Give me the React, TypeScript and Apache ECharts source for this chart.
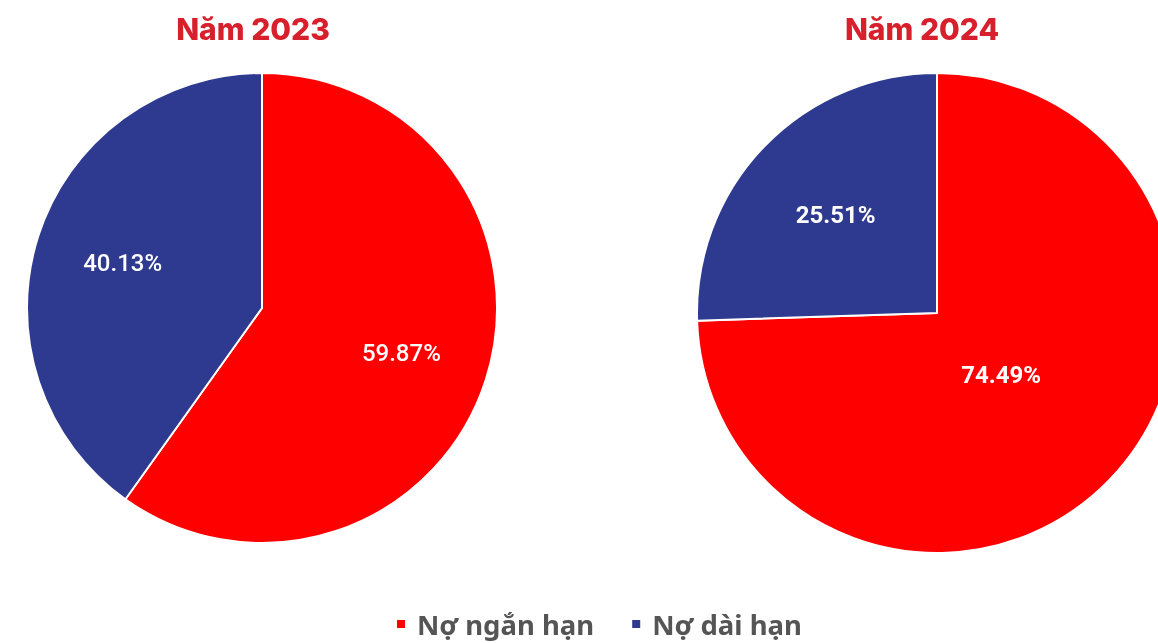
import React, { useEffect, useRef } from "react";
import * as echarts from "echarts";

const categories = ["Nợ ngắn hạn", "Nợ dài hạn"];
const colors = ["#ff0000", "#2e3a8f"];
const values2023 = [59.87, 40.13];
const values2024 = [74.49, 25.51];
const titles = ["Năm 2023", "Năm 2024"];

export default function App() {
  const ref = useRef<HTMLDivElement>(null);
  useEffect(() => {
    if (!ref.current) return;
    const chart = echarts.init(ref.current, null, { renderer: "svg" });
    const mkData = (vals: number[]) =>
      vals.map((v, i) => ({ name: categories[i], value: v, itemStyle: { color: colors[i] } }));
    const mkLabelData = (vals: number[], show: boolean[]) =>
      vals.map((v, i) => ({
        name: categories[i],
        value: v,
        itemStyle: { color: "rgba(0,0,0,0)", borderWidth: 0 },
        label: { show: show[i] },
      }));
    const base = {
      type: "pie",
      startAngle: 90,
      clockwise: true,
      avoidLabelOverlap: false,
      labelLine: { show: false },
    };
    const c1 = [262, 308];
    const r1 = 235;
    const c2 = [937, 313];
    const r2 = 240;
    const labelStyle = (weight: string) => ({
      position: "inside",
      color: "#ffffff",
      fontSize: 24,
      fontWeight: weight,
      fontFamily: "Roboto",
      formatter: (p: any) => p.value.toFixed(2) + "%",
    });
    const titleStyle = { color: "#d7202c", fontSize: 30, fontWeight: 800, fontFamily: "Inter" };
    chart.setOption({
      animation: false,
      title: [
        { text: titles[0], left: 248, top: 9, textAlign: "center", textStyle: titleStyle },
        { text: titles[1], left: 917, top: 9, textAlign: "center", textStyle: titleStyle },
      ],
      legend: {
        bottom: 0,
        left: 390,
        icon: "rect",
        itemWidth: 10,
        itemHeight: 10,
        itemGap: 36,
        data: categories.map((n, i) => ({ name: n, itemStyle: { color: colors[i] } })),
        textStyle: {
          color: "#555555",
          fontSize: 27.5,
          fontWeight: "bold",
          fontFamily: "Noto Sans",
          padding: [0, 0, 0, 6],
        },
        selectedMode: false,
      },
      series: [
        {
          ...base,
          center: c1,
          radius: [0, r1],
          data: mkData(values2023),
          itemStyle: { borderColor: "#ffffff", borderWidth: 2 },
          label: { show: false },
        },
        {
          ...base,
          center: c1,
          radius: [r1 * 0.22, r1],
          silent: true,
          data: mkLabelData(values2023, [true, true]),
          label: labelStyle("500"),
        },
        {
          ...base,
          center: c2,
          radius: [0, r2],
          data: mkData(values2024),
          itemStyle: { borderColor: "#ffffff", borderWidth: 2 },
          label: { show: false },
        },
        {
          ...base,
          center: c2,
          radius: [r2 * 0.15, r2],
          silent: true,
          data: mkLabelData(values2024, [false, true]),
          label: labelStyle("bold"),
        },
        {
          ...base,
          center: c2,
          radius: [0, r2 * 0.72],
          silent: true,
          data: mkLabelData(values2024, [true, false]),
          label: labelStyle("bold"),
        },
      ],
    });
    return () => chart.dispose();
  }, []);
  return <div ref={ref} style={{ position: "fixed", left: 0, top: 0, width: 1158, height: 643 }} />;
}
